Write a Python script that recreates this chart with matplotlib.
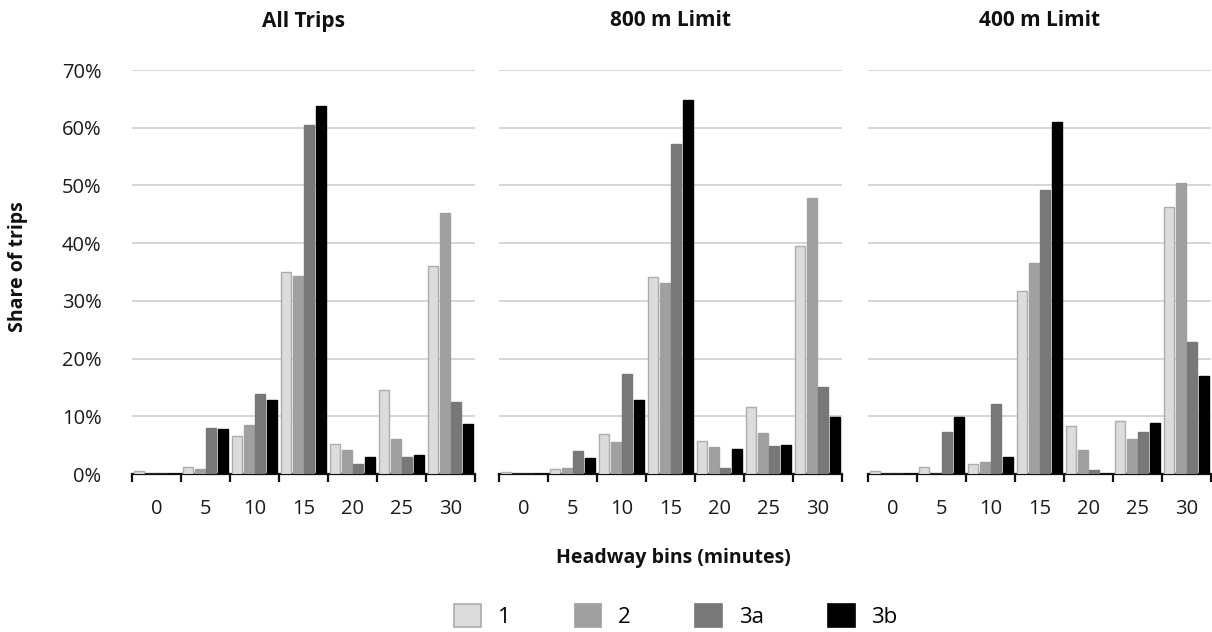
import numpy as np
import matplotlib
matplotlib.use("Agg")
import matplotlib.pyplot as plt
from matplotlib.patches import Patch

plt.rcParams['font.family'] = ['Open Sans', 'DejaVu Sans']

# headway bins (minutes) and the four service groups
bins = ["0", "5", "10", "15", "20", "25", "30"]
groups = ["1", "2", "3a", "3b"]
panel_titles = ["All Trips", "800 m Limit", "400 m Limit"]

# share of trips (%) for each panel, one list per group
all_trips = {
    "1":  [0.5, 1.2, 6.5, 35.0, 5.2, 14.6, 36.0],
    "2":  [0.0, 0.9, 8.5, 34.3, 4.2, 6.1, 45.3],
    "3a": [0.0, 7.9, 13.9, 60.4, 1.8, 2.9, 12.5],
    "3b": [0.0, 7.8, 12.9, 63.8, 2.9, 3.3, 8.7],
}
limit_800 = {
    "1":  [0.3, 0.9, 6.9, 34.1, 5.8, 11.6, 39.5],
    "2":  [0.0, 1.0, 5.5, 33.1, 4.6, 7.1, 47.9],
    "3a": [0.0, 4.0, 17.3, 57.1, 1.0, 4.8, 15.1],
    "3b": [0.0, 2.7, 12.8, 64.8, 4.4, 5.0, 9.8],
}
limit_400 = {
    "1":  [0.5, 1.2, 1.7, 31.7, 8.4, 9.1, 46.3],
    "2":  [0.0, 0.0, 2.1, 36.5, 4.2, 6.1, 50.5],
    "3a": [0.0, 7.3, 12.1, 49.2, 0.7, 7.3, 22.8],
    "3b": [0.0, 9.9, 2.9, 61.0, 0.0, 8.9, 16.9],
}
panels = [all_trips, limit_800, limit_400]

fills = {"1": "#dcdcdc", "2": "#a0a0a0", "3a": "#787878", "3b": "#000000"}
edges = {"1": "#adadad", "2": "#a0a0a0", "3a": "#787878", "3b": "#000000"}

W, H = 1212, 632
fig = plt.figure(figsize=(W / 100, H / 100), dpi=100)

lefts = [132, 499, 868]
ax_w = 343
ax_top, ax_bot = 70, 474

x = np.arange(len(bins))
bw = 0.205
offsets = (np.arange(len(groups)) - 1.5) * 0.235

for i, (data, title) in enumerate(zip(panels, panel_titles)):
    ax = fig.add_axes([lefts[i] / W, (H - ax_bot) / H, ax_w / W, (ax_bot - ax_top) / H])
    for j, g in enumerate(groups):
        ax.bar(x + offsets[j], data[g], width=bw, color=fills[g],
               edgecolor=edges[g], linewidth=1.0, zorder=3)
    ax.set_xlim(-0.5, len(bins) - 0.5)
    ax.set_ylim(0, 70)
    ax.set_yticks(np.arange(0, 71, 10))
    ax.yaxis.grid(True, color="#d0d0d0", linewidth=1.2, zorder=0)
    ax.set_axisbelow(True)
    for s in ["left", "right", "top"]:
        ax.spines[s].set_visible(False)
    ax.spines["bottom"].set_linewidth(1.6)
    ax.spines["bottom"].set_color("#111111")

    # boundary ticks below the axis, labels centred on each bin
    ax.set_xticks(np.arange(-0.5, len(bins), 1.0))
    ax.set_xticklabels([])
    ax.tick_params(axis="x", which="major", length=6, width=1.6, color="#111111", direction="out")
    ax.set_xticks(x, minor=True)
    ax.set_xticklabels(bins, minor=True, fontsize=14.5, color="#1a1a1a")
    ax.tick_params(axis="x", which="minor", length=0, pad=18)

    if i == 0:
        ax.set_yticklabels([f"{v}%" for v in range(0, 71, 10)], fontsize=14.5, color="#1a1a1a")
        ax.tick_params(axis="y", length=0, pad=22)
    else:
        ax.tick_params(axis="y", length=0, labelleft=False)

    fig.text((lefts[i] + ax_w / 2) / W, 1 - 21 / H, title, ha="center", va="center",
             fontsize=15, fontweight="bold", color="#111111")

fig.text(18 / W, 1 - 267 / H, "Share of trips", rotation=90, ha="center", va="center",
         fontsize=14, fontweight="bold", color="#111111")
fig.text(673 / W, 1 - 558 / H, "Headway bins (minutes)", ha="center", va="center",
         fontsize=14, fontweight="bold", color="#111111")

handles = [Patch(facecolor=fills[g], edgecolor=edges[g], linewidth=1.2) for g in groups]
fig.legend(handles, groups, loc="center", bbox_to_anchor=(676 / W, 1 - 616 / H), ncol=4,
           frameon=False, fontsize=16, handlelength=1.2, handleheight=1.2,
           columnspacing=2.9, handletextpad=0.75, borderpad=0)

fig.savefig("out.png", dpi=100)
